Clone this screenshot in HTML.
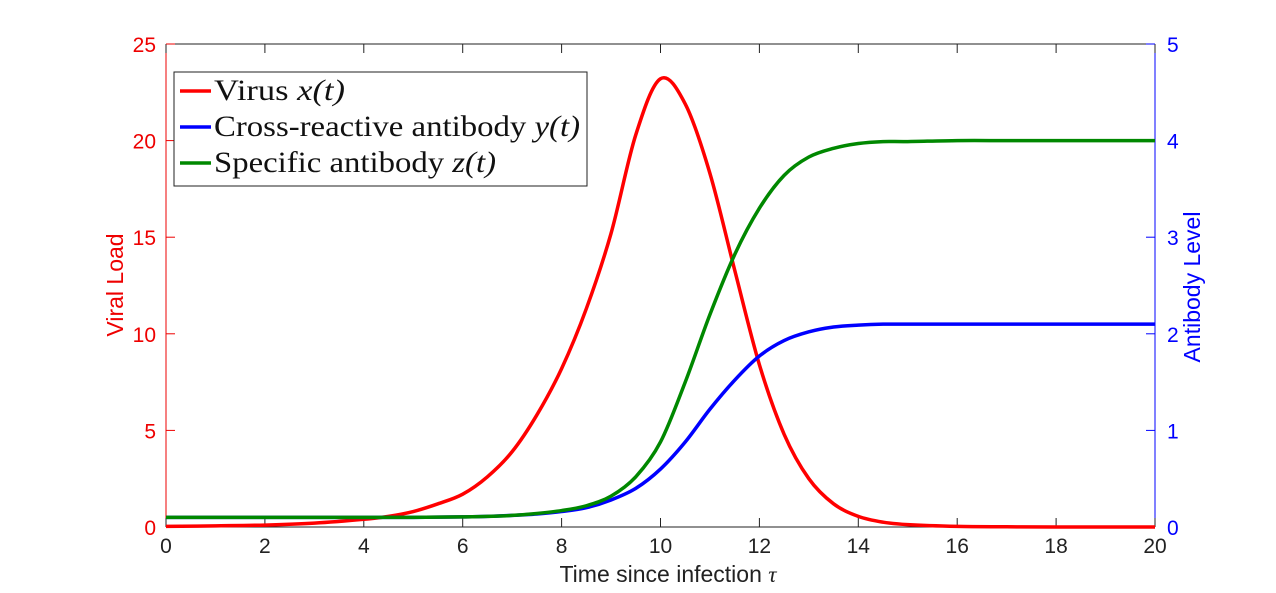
<!DOCTYPE html>
<html><head><meta charset="utf-8"><style>
body{margin:0;background:#fff;}
svg{display:block;font-family:"Liberation Sans",sans-serif;}
.lg{font-family:"Liberation Serif",serif;font-size:30px;}
</style></head><body>
<svg id="c" width="1276" height="593"></svg>
<script>
const tVals=[0,1,2,3,4,4.5,5,5.5,6,6.5,7,7.5,8,8.5,9,9.5,10,10.5,11,11.5,12,12.5,13,13.5,14,14.5,15,16,17,18,20];
const virus=[0.03,0.06,0.1,0.2,0.4,0.55,0.8,1.2,1.7,2.6,3.9,5.8,8.2,11.3,15.2,20.3,23.2,21.9,18.3,13.3,8.4,4.8,2.5,1.2,0.55,0.25,0.12,0.03,0.01,0,0];
const crossAb=[0.1,0.1,0.1,0.1,0.1,0.1,0.1,0.102,0.105,0.11,0.12,0.135,0.16,0.2,0.28,0.4,0.6,0.88,1.22,1.52,1.77,1.93,2.02,2.07,2.09,2.1,2.1,2.1,2.1,2.1,2.1];
const specAb=[0.1,0.1,0.1,0.1,0.1,0.1,0.1,0.102,0.105,0.11,0.12,0.14,0.17,0.22,0.32,0.52,0.88,1.5,2.2,2.82,3.3,3.64,3.83,3.92,3.97,3.99,3.99,4.0,4.0,4.0,4.0];
const xTicks=[0,2,4,6,8,10,12,14,16,18,20];
const yLTicks=[0,5,10,15,20,25];
const yRTicks=[0,1,2,3,4,5];
const L=166,R=1155,T=44,B=527;
const sx=v=>L+(v/20)*(R-L);
const syL=v=>B-(v/25)*(B-T);
const syR=v=>B-(v/5)*(B-T);
const svg=document.getElementById('c');
const NS='http://www.w3.org/2000/svg';
function mk(tag,attrs,parent){const e=document.createElementNS(NS,tag);for(const k in attrs)e.setAttribute(k,attrs[k]);(parent||svg).appendChild(e);return e;}
function pathFor(xs,ys,fy){const p=xs.map((x,i)=>[sx(x),fy(ys[i])]);let d='M'+p[0][0]+','+p[0][1];
for(let i=0;i<p.length-1;i++){const p0=p[Math.max(0,i-1)],p1=p[i],p2=p[i+1],p3=p[Math.min(p.length-1,i+2)];
const c1=[p1[0]+(p2[0]-p0[0])/6,p1[1]+(p2[1]-p0[1])/6],c2=[p2[0]-(p3[0]-p1[0])/6,p2[1]-(p3[1]-p1[1])/6];
d+=' C'+c1+' '+c2+' '+p2;}return d;}
let e=mk('line',{x1:L,y1:T,x2:R,y2:T,stroke:'#222','stroke-width':1});

e=mk('line',{x1:L,y1:B,x2:R,y2:B,stroke:'#222','stroke-width':1});

e=mk('line',{x1:L,y1:T,x2:L,y2:B,stroke:'#e00','stroke-width':1});

e=mk('line',{x1:R,y1:T,x2:R,y2:B,stroke:'#00f','stroke-width':1});

xTicks.forEach(v=>{const x=sx(v);
mk('line',{x1:x,y1:B,x2:x,y2:B-9,stroke:'#222'});mk('line',{x1:x,y1:T,x2:x,y2:T+9,stroke:'#222'});
const t=mk('text',{x:x,y:B+26,'text-anchor':'middle','font-size':21,fill:'#222'});t.textContent=v;
});
yLTicks.forEach(v=>{const y=syL(v);mk('line',{x1:L,y1:y,x2:L+9,y2:y,stroke:'#e00'});
const t=mk('text',{x:L-10,y:y+8,'text-anchor':'end','font-size':21,fill:'#e00'});t.textContent=v;
});
yRTicks.forEach(v=>{const y=syR(v);mk('line',{x1:R,y1:y,x2:R-9,y2:y,stroke:'#00f'});
const t=mk('text',{x:R+12,y:y+8,'text-anchor':'start','font-size':21,fill:'#00f'});t.textContent=v;
});
e=mk('text',{x:668,y:582,'text-anchor':'middle','font-size':23,fill:'#222'});
e.innerHTML='Time since infection <tspan font-family="Liberation Serif" font-style="italic">τ</tspan>';

e=mk('text',{x:0,y:0,'text-anchor':'middle','font-size':23,fill:'#e00',transform:'translate(123,285) rotate(-90)'});e.textContent='Viral Load';

e=mk('text',{x:0,y:0,'text-anchor':'middle','font-size':23,fill:'#00f',transform:'translate(1200,287) rotate(-90)'});e.textContent='Antibody Level';

e=mk('path',{d:pathFor(tVals,virus,syL),fill:'none',stroke:'#f00','stroke-width':3.5});

e=mk('path',{d:pathFor(tVals,crossAb,syR),fill:'none',stroke:'#00f','stroke-width':3.5});

e=mk('path',{d:pathFor(tVals,specAb,syR),fill:'none',stroke:'#080','stroke-width':3.5});

const g=mk('g',{});
mk('rect',{x:174,y:72,width:413,height:114,fill:'#fff',stroke:'#222','stroke-width':1},g);
const items=[['#f00','Virus ','x(t)'],['#00f','Cross-reactive antibody ','y(t)'],['#080','Specific antibody ','z(t)']];
items.forEach((it,i)=>{const y=91+i*36;
const ln=mk('line',{x1:180,y1:y,x2:211,y2:y,stroke:it[0],'stroke-width':3.5},g);

const t=mk('text',{x:214,y:y+9,'class':'lg',fill:'#111',textLength:(i==0?131:i==1?366:282),lengthAdjust:'spacingAndGlyphs'},g);
t.innerHTML=it[1]+'<tspan font-style="italic">'+it[2]+'</tspan>';
});
</script>
</body></html>
